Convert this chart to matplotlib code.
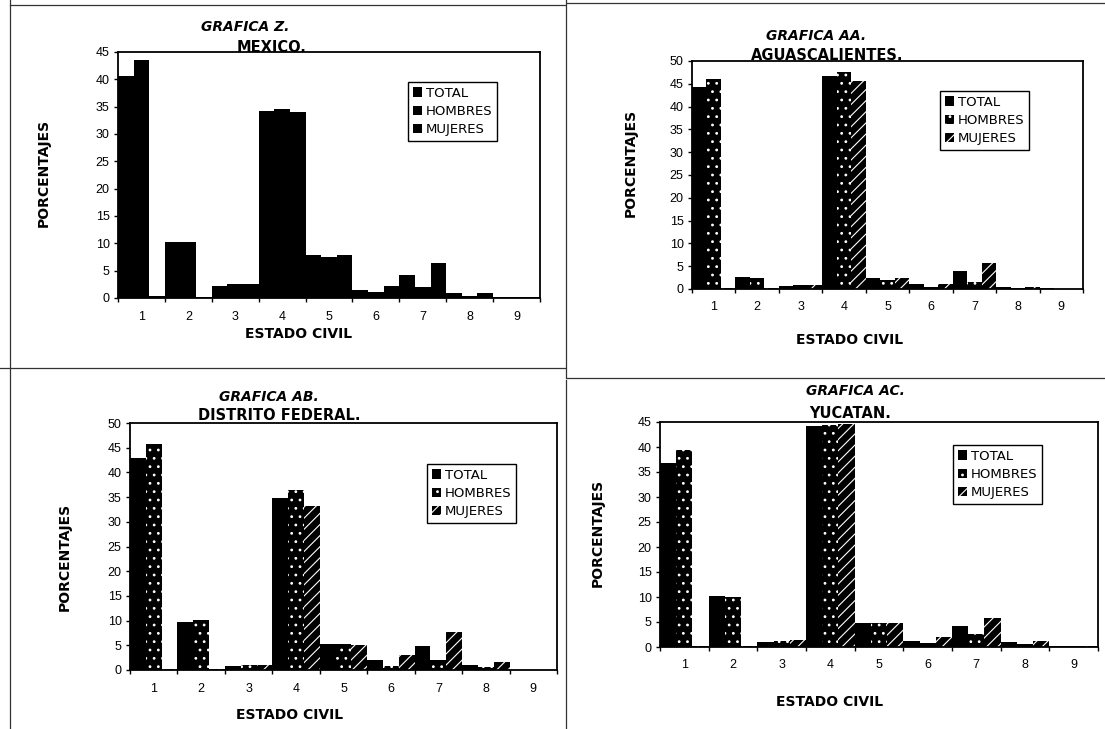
import matplotlib
matplotlib.use('Agg')
import matplotlib.pyplot as plt
from matplotlib.lines import Line2D
import numpy as np

plt.rcParams['font.family'] = ['Liberation Sans', 'DejaVu Sans']
plt.rcParams['hatch.color'] = 'white'
plt.rcParams['hatch.linewidth'] = 0.8

W, H = 1105, 729

estado_civil = ['1', '2', '3', '4', '5', '6', '7', '8', '9']
series = ['TOTAL', 'HOMBRES', 'MUJERES']

# GRAFICA Z. MEXICO
mex_total = [40.7, 10.2, 2.2, 34.2, 7.8, 1.5, 4.2, 0.9, 0.2]
mex_hombres = [43.6, 10.3, 2.5, 34.5, 7.5, 1.1, 2.1, 0.4, 0.2]
mex_mujeres = [0.3, 0.2, 2.6, 34.0, 7.8, 2.2, 6.4, 0.9, 0.2]

# GRAFICA AA. AGUASCALIENTES
ags_total = [44.4, 2.6, 0.7, 46.7, 2.4, 1.0, 3.9, 0.4, 0.2]
ags_hombres = [46.0, 2.4, 0.8, 47.6, 2.0, 0.5, 1.5, 0.3, 0.1]
ags_mujeres = [0.3, 0.3, 0.9, 45.6, 2.4, 1.2, 5.8, 0.4, 0.1]

# GRAFICA AB. DISTRITO FEDERAL
df_total = [43.0, 9.8, 0.9, 34.8, 5.2, 2.1, 4.8, 1.1, 0.1]
df_hombres = [45.8, 10.2, 1.0, 36.4, 5.2, 0.9, 2.0, 0.6, 0.1]
df_mujeres = [0.3, 0.2, 1.1, 33.2, 5.0, 3.1, 7.7, 1.6, 0.1]

# GRAFICA AC. YUCATAN
yuc_total = [36.8, 10.2, 1.1, 44.3, 4.9, 1.3, 4.3, 1.0, 0.2]
yuc_hombres = [39.4, 10.0, 1.2, 44.5, 4.8, 0.9, 2.7, 0.6, 0.2]
yuc_mujeres = [0.2, 0.2, 1.4, 44.6, 4.9, 2.0, 5.9, 1.2, 0.2]


def fx(px):
    return px / W


def fy(py):
    return 1 - py / H


def grafica(fig, caja, titulo1, titulo2, ymax, datos, hatches, pos):
    # caja = (izq, arriba, der, abajo) en pixeles
    l, t, r, b = caja
    ax = fig.add_axes([fx(l), fy(b), (r - l) / W, (b - t) / H])
    x = np.arange(len(estado_civil))
    ancho = 1.0 / 3
    for i, (nombre, valores) in enumerate(zip(series, datos)):
        ax.bar(x - ancho + i * ancho, valores, width=ancho, color='black',
               hatch=hatches[i], linewidth=0, label=nombre)

    ax.set_xlim(-0.5, len(estado_civil) - 0.5)
    ax.set_ylim(0, ymax)
    ax.set_yticks(np.arange(0, ymax + 1, 5))
    ax.set_xticks(np.arange(-0.5, len(estado_civil), 1))
    ax.set_xticklabels([])
    ax.set_xticks(x, minor=True)
    ax.set_xticklabels(estado_civil, minor=True)
    ax.tick_params(axis='x', which='minor', length=0, pad=9, labelsize=9)
    ax.tick_params(axis='x', which='major', length=3, width=1, direction='out')
    ax.tick_params(axis='y', length=3, width=1, direction='out', labelsize=9, pad=3)
    for s in ax.spines.values():
        s.set_linewidth(1.3)

    leg = ax.legend(loc='upper left', bbox_to_anchor=(fx(pos['leg'][0]), fy(pos['leg'][1])),
                    bbox_transform=fig.transFigure, fancybox=False,
                    prop={'family': 'DejaVu Sans', 'size': 9.5},
                    edgecolor='black', framealpha=1, borderpad=0.35,
                    handlelength=0.7, handleheight=0.7, handletextpad=0.3,
                    labelspacing=0.4, borderaxespad=0)
    leg.get_frame().set_linewidth(1.0)

    fig.text(fx(pos['t1'][0]), fy(pos['t1'][1]), titulo1, ha='center', va='center',
             family='DejaVu Sans', fontsize=10, fontweight='bold', style='italic')
    fig.text(fx(pos['t2'][0]), fy(pos['t2'][1]), titulo2, ha='center', va='center',
             family='DejaVu Sans', fontsize=10.5, fontweight='bold')
    fig.text(fx(pos['xl'][0]), fy(pos['xl'][1]), 'ESTADO CIVIL', ha='center', va='center',
             family='DejaVu Sans', fontsize=10, fontweight='bold')
    fig.text(fx(pos['yl'][0]), fy(pos['yl'][1]), 'PORCENTAJES', ha='center', va='center',
             family='DejaVu Sans', fontsize=10, fontweight='bold', rotation=90)
    return ax


fig = plt.figure(figsize=(W / 100, H / 100), dpi=100)

sin = [None, None, None]
con = [None, '..', '///']

grafica(fig, (118, 52, 540, 298), 'GRAFICA Z.', 'MEXICO.', 45,
        [mex_total, mex_hombres, mex_mujeres], sin,
        {'leg': (408, 82), 't1': (245, 27), 't2': (272, 47), 'xl': (299, 334), 'yl': (44, 173)})
grafica(fig, (692, 61, 1083, 289), 'GRAFICA AA.', 'AGUASCALIENTES.', 50,
        [ags_total, ags_hombres, ags_mujeres], con,
        {'leg': (940, 91), 't1': (816, 36), 't2': (827, 56), 'xl': (850, 340), 'yl': (631, 163)})
grafica(fig, (130, 423, 557, 670), 'GRAFICA AB.', 'DISTRITO FEDERAL.', 50,
        [df_total, df_hombres, df_mujeres], con,
        {'leg': (427, 464), 't1': (269, 397), 't2': (279, 415), 'xl': (290, 715), 'yl': (65, 557)})
grafica(fig, (660, 422, 1098, 647), 'GRAFICA AC.', 'YUCATAN.', 45,
        [yuc_total, yuc_hombres, yuc_mujeres], con,
        {'leg': (953, 445), 't1': (855, 391), 't2': (850, 413), 'xl': (830, 702), 'yl': (598, 533)})

# bordes de la hoja escaneada
bordes = [
    ((10, 10), (0, 729)),
    ((10, 565), (5, 5)),
    ((567, 1105), (3, 3)),
    ((566, 566), (0, 378)),
    ((0, 565), (368, 368)),
    ((567, 1105), (378, 378)),
    ((566, 566), (380, 729)),
]
for xs, ys in bordes:
    fig.add_artist(Line2D([fx(v) for v in xs], [fy(v) for v in ys],
                          transform=fig.transFigure, color='#333333', linewidth=0.9))

fig.savefig('out.png', dpi=100)
